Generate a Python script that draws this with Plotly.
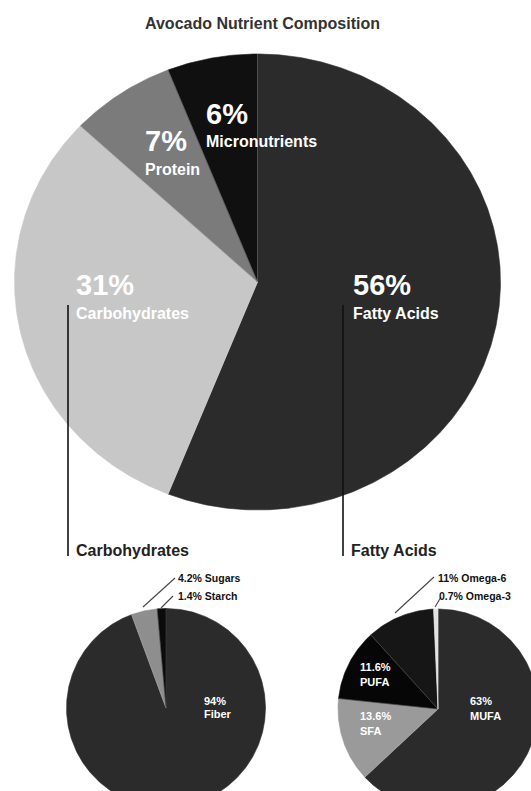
import numpy as np
import plotly.graph_objects as go

# ---------------- data ----------------
main_labels = ["Fatty Acids", "Carbohydrates", "Protein", "Micronutrients"]
main_values = [56, 31, 7, 6]

carb_labels = ["Fiber", "Sugars", "Starch"]
carb_values = [94, 4.2, 1.4]

fat_labels = ["MUFA", "SFA", "PUFA", "Omega-6", "Omega-3"]
fat_values = [63, 13.6, 11.6, 11, 0.7]

# ---------------- style / layout ----------------
W, H = 531, 791
main_colors = ["#2b2b2b", "#c7c7c7", "#7b7b7b", "#101010"]
carb_colors = ["#2b2b2b", "#8e8e8e", "#0b0b0b"]
fat_colors = ["#2b2b2b", "#9a9a9a", "#060606", "#161616", "#e2e2e2"]

main_geo = dict(cx=257.5, cy=282, rx=243, ry=228)
carb_geo = dict(cx=166, cy=708, rx=99.5, ry=99.5)
fat_geo = dict(cx=438, cy=709, rx=100, ry=100)

FONT = "Liberation Sans"

fig = go.Figure()


def add_pie(values, colors, geo, sep_color):
    total = float(sum(values))
    cum = 0.0
    bounds = []
    for v, c in zip(values, colors):
        a0 = cum / total * 2 * np.pi
        cum += v
        a1 = cum / total * 2 * np.pi
        n = max(3, int(np.degrees(a1 - a0) / 0.5) + 2)
        t = np.linspace(a0, a1, n)
        xs = np.concatenate([[geo["cx"]], geo["cx"] + geo["rx"] * np.sin(t), [geo["cx"]]])
        ys = np.concatenate([[geo["cy"]], geo["cy"] - geo["ry"] * np.cos(t), [geo["cy"]]])
        fig.add_trace(go.Scatter(x=xs, y=ys, mode="lines", fill="toself",
                                 fillcolor=c, line=dict(color=c, width=0.6),
                                 hoverinfo="skip", showlegend=False))
        bounds.append(a0)
    # slice separators
    sx, sy = [], []
    for a in bounds:
        sx += [geo["cx"], geo["cx"] + geo["rx"] * np.sin(a), None]
        sy += [geo["cy"], geo["cy"] - geo["ry"] * np.cos(a), None]
    fig.add_trace(go.Scatter(x=sx, y=sy, mode="lines",
                             line=dict(color=sep_color, width=1),
                             hoverinfo="skip", showlegend=False))


add_pie(main_values, main_colors, main_geo, "rgba(255,255,255,0.22)")
add_pie(carb_values, carb_colors, carb_geo, "rgba(255,255,255,0.15)")
add_pie(fat_values, fat_colors, fat_geo, "rgba(255,255,255,0.15)")


def pct(v):
    return f"{v:g}%"


annotations = []


def txt(x, y, text, size, color="white", family=FONT, xanchor="left"):
    annotations.append(dict(x=x, y=y, xref="x", yref="y", text=text, showarrow=False,
                            xanchor=xanchor, yanchor="middle",
                            font=dict(family=family, size=size, color=color, weight="bold")))


# title
txt(262, 23, "Avocado Nutrient Composition", 16, color="#333333", xanchor="center")

# main pie labels
main_pos = [(351, 284.5, 313), (74, 284.5, 313), (143, 140.5, 169), (204, 114, 141)]
for lab, v, (x, yp, yl) in zip(main_labels, main_values, main_pos):
    txt(x, yp, pct(v), 29)
    txt(x, yl, lab, 16)

# section headings
txt(74, 550, "Carbohydrates", 16, color="#222222")
txt(349, 550, "Fatty Acids", 16, color="#222222")

# carbohydrate pie labels
txt(202, 700.5, pct(carb_values[0]), 11)
txt(202, 713.5, carb_labels[0], 11)
txt(176, 577.5, f"{pct(carb_values[1])} {carb_labels[1]}", 10.5, color="#111111")
txt(176, 596, f"{pct(carb_values[2])} {carb_labels[2]}", 10.5, color="#111111")

# fatty acid pie labels
txt(468, 701, pct(fat_values[0]), 11)
txt(468, 716, fat_labels[0], 11)
txt(358, 716, pct(fat_values[1]), 11)
txt(358, 731, fat_labels[1], 11)
txt(358, 667, pct(fat_values[2]), 11)
txt(358, 682, fat_labels[2], 11)
txt(436, 577.5, f"{pct(fat_values[3])} {fat_labels[3]}", 10.5, color="#111111")
txt(437, 596, f"{pct(fat_values[4])} {fat_labels[4]}", 10.5, color="#111111")

shapes = [
    dict(type="line", xref="x", yref="y", x0=68, y0=305, x1=68, y1=556, line=dict(color="#111111", width=1.6)),
    dict(type="line", xref="x", yref="y", x0=343, y0=305, x1=343, y1=556, line=dict(color="#111111", width=1.6)),
    dict(type="line", xref="x", yref="y", x0=143, y0=607, x1=175, y1=578, line=dict(color="#444444", width=1.1)),
    dict(type="line", xref="x", yref="y", x0=161, y0=608, x1=173, y1=596, line=dict(color="#444444", width=1.1)),
    dict(type="line", xref="x", yref="y", x0=395, y0=613, x1=434, y1=577, line=dict(color="#444444", width=1.1)),
    dict(type="line", xref="x", yref="y", x0=435, y0=607, x1=441, y1=597, line=dict(color="#444444", width=1.1)),
]

fig.update_layout(
    width=W, height=H,
    margin=dict(l=0, r=0, t=0, b=0),
    paper_bgcolor="white", plot_bgcolor="white",
    xaxis=dict(range=[0, W], visible=False, fixedrange=True),
    yaxis=dict(range=[H, 0], visible=False, fixedrange=True),
    annotations=annotations,
    shapes=shapes,
    showlegend=False,
)

fig.write_html(
    "out.html",
    config={"displayModeBar": False},
    post_script="document.body.style.margin='0';document.body.style.overflow='hidden';",
)
